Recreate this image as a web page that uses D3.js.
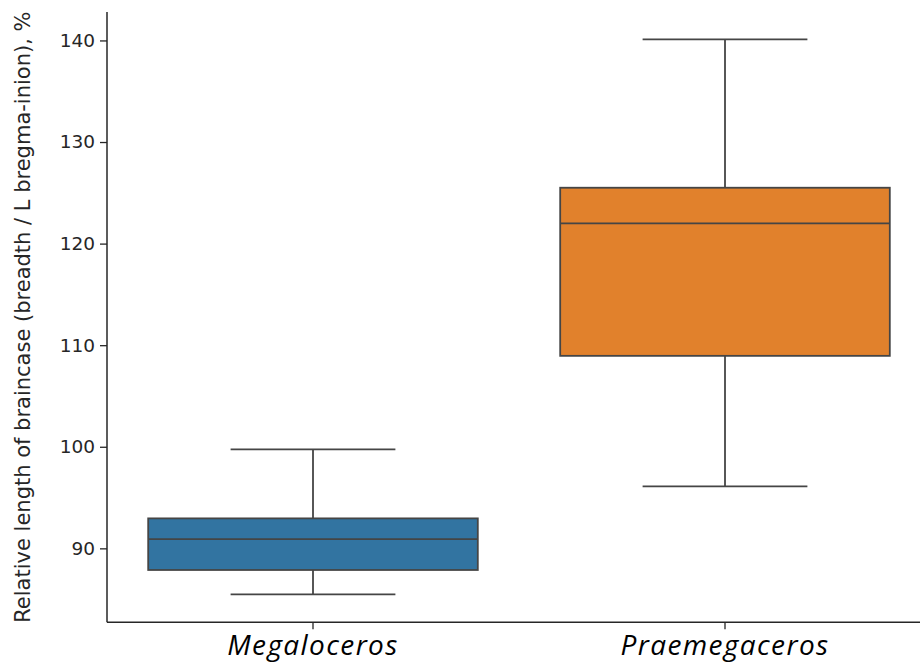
<!DOCTYPE html>
<html>
<head>
<meta charset="utf-8">
<script src="https://cdn.jsdelivr.net/npm/d3@7"></script>
<style>
  body { margin: 0; background: #fff; }
  svg { display: block; }
</style>
</head>
<body>
<script>
// box stats
var categories = ['Megaloceros', 'Praemegaceros'];
var whiskerLow = [85.47, 96.1];
var q1 = [87.87, 108.95];
var median = [90.9, 122.0];
var q3 = [92.95, 125.5];
var whiskerHigh = [99.74, 140.1];
var yTicks = [90, 100, 110, 120, 130, 140];
var colors = ['#3274a1', '#e1812c'];

var W = 920, H = 666;
var margin = {left: 107, right: 931, top: 12, bottom: 622.3};

var svg = d3.select('body').append('svg')
  .attr('width', W)
  .attr('height', H);

var y = d3.scaleLinear().domain([82.72, 142.8]).range([margin.bottom, margin.top]);
var x = d3.scaleBand().domain(categories).range([margin.left, margin.right]).padding(0);

var boxes = categories.map(function(c, i) {
  return {cat: c, lo: whiskerLow[i], q1: q1[i], med: median[i], q3: q3[i], hi: whiskerHigh[i], color: colors[i]};
});

var lineColor = '#454545';
var bw = x.bandwidth() * 0.8;
var capW = x.bandwidth() * 0.4;
var cx = d => x(d.cat) + x.bandwidth() / 2;

var g = svg.selectAll('.box')
  .data(boxes)
  .enter()
  .append('g')
  .attr('class', 'box');

// whiskers
g.append('line')
  .attr('x1', cx).attr('x2', cx)
  .attr('y1', d => y(d.hi))
  .attr('y2', d => y(d.q3))
  .style('stroke', lineColor)
  .style('stroke-width', 1.8);

g.append('line')
  .attr('x1', cx).attr('x2', cx)
  .attr('y1', d => y(d.q1))
  .attr('y2', d => y(d.lo))
  .style('stroke', lineColor)
  .style('stroke-width', 1.8);

// caps
['hi', 'lo'].forEach(function(k) {
  g.append('line')
    .attr('x1', d => cx(d) - capW / 2)
    .attr('x2', d => cx(d) + capW / 2)
    .attr('y1', d => y(d[k]))
    .attr('y2', d => y(d[k]))
    .style('stroke', lineColor)
    .style('stroke-width', 1.8);
});

// box
g.append('rect')
  .attr('x', d => cx(d) - bw / 2)
  .attr('width', bw)
  .attr('y', d => y(d.q3))
  .attr('height', d => y(d.q1) - y(d.q3))
  .style('fill', d => d.color)
  .style('stroke', lineColor)
  .style('stroke-width', 1.8);

// median
g.append('line')
  .attr('x1', d => cx(d) - bw / 2)
  .attr('x2', d => cx(d) + bw / 2)
  .attr('y1', d => y(d.med))
  .attr('y2', d => y(d.med))
  .style('stroke', lineColor)
  .style('stroke-width', 1.8);

// axes
var yAxis = svg.append('g')
  .attr('transform', `translate(${margin.left},0)`)
  .call(d3.axisLeft(y).tickValues(yTicks).tickSize(7).tickPadding(5).tickSizeOuter(0));
yAxis.select('.domain').remove();
yAxis.selectAll('text')
  .style('font-family', 'DejaVu Sans')
  .style('font-size', '18.5px')
  .style('fill', '#262626');
yAxis.selectAll('line').style('stroke', '#262626').style('stroke-width', 1.3);

var xAxis = svg.append('g')
  .attr('transform', `translate(0,${margin.bottom})`)
  .call(d3.axisBottom(x).tickSize(7).tickPadding(6).tickSizeOuter(0));
xAxis.select('.domain').remove();
xAxis.selectAll('line').style('stroke', '#262626').style('stroke-width', 1.3);
xAxis.selectAll('text')
  .attr('y', 33)
  .attr('dy', 0)
  .style('font-family', 'Open Sans')
  .style('font-style', 'italic')
  .style('font-size', '28px')
  .style('letter-spacing', '1.4px')
  .style('fill', '#000');

// spines (left and bottom only)
svg.append('line')
  .attr('x1', margin.left).attr('x2', margin.left)
  .attr('y1', margin.top).attr('y2', margin.bottom)
  .style('stroke', '#262626').style('stroke-width', 1.5);
svg.append('line')
  .attr('x1', margin.left).attr('x2', margin.right)
  .attr('y1', margin.bottom).attr('y2', margin.bottom)
  .style('stroke', '#262626').style('stroke-width', 1.5);

// y label
svg.append('text')
  .text('Relative length of braincase (breadth / L bregma-inion), %')
  .attr('text-anchor', 'middle')
  .attr('transform', `translate(30, ${(margin.top + margin.bottom) / 2}) rotate(-90)`)
  .style('font-family', 'DejaVu Sans')
  .style('font-size', '21px')
  .style('fill', '#262626');
</script>
</body>
</html>
